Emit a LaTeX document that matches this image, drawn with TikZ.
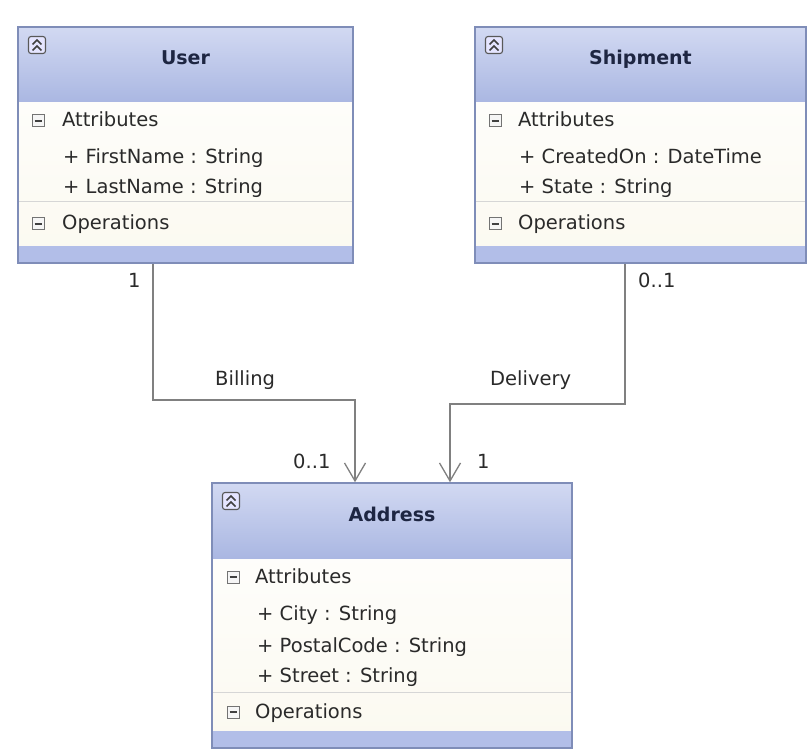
\documentclass[tikz,border=0pt]{standalone}
\usepackage{fontspec}
\setmainfont{DejaVu Sans}
\usetikzlibrary{arrows.meta,fit,calc}
\definecolor{border}{HTML}{7F8DB8}
\definecolor{hdtop}{HTML}{D2D9F2}
\definecolor{hdbot}{HTML}{AAB7E2}
\definecolor{bodytop}{HTML}{FFFFFF}
\definecolor{bodybot}{HTML}{FBF9F0}
\definecolor{bandc}{HTML}{B2BEE8}
\definecolor{sepc}{HTML}{D6D6D6}
\definecolor{titlec}{HTML}{1E2642}
\definecolor{textc}{HTML}{2A2A2A}
\definecolor{linec}{HTML}{808080}
\tikzset{
  frame/.style={draw=border,line width=1.5pt,inner sep=0pt,fill=none},
  titletext/.style={font=\fontsize{19}{22}\selectfont\bfseries,text=titlec,anchor=base,inner sep=0pt},
  rowtext/.style={font=\fontsize{19.5}{22}\selectfont,text=textc,anchor=base west,inner sep=0pt},
  conlabel/.style={font=\fontsize{19.5}{22}\selectfont,text=textc,anchor=base west,inner sep=0pt},
  assoc/.style={draw=linec,line width=1.3pt,-{Straight Barb[length=18pt,width=21pt,line width=1.3pt]}},
  iconbox/.style={draw=black!65,fill=white!90!blue,rounded corners=2.5pt,minimum size=17pt,inner sep=0pt,line width=1.1pt},
  minbox/.style={draw=black!55,fill=white!96!black,minimum size=12pt,inner sep=0pt,line width=1pt},
}
% #1 name, #2 x1, #3 y1, #4 x2, #5 y2, #6 separator y, #7 title
\newcommand\classbox[7]{%
  \shade[top color=bodytop,bottom color=bodybot] (#2,#3) rectangle (#4,#5);
  \shade[top color=hdtop,bottom color=hdbot] (#2,#3) rectangle (#4,{#3+75});
  \fill[bandc] (#2,{#5-17}) rectangle (#4,#5);
  \draw[sepc,line width=1pt] (#2,#6) -- (#4,#6);
  \node[iconbox] (#1-icon) at ({#2+19},{#3+18}) {};
  \draw[black!75,line width=1.5pt] ({#2+14.5},{#3+17.5}) -- ({#2+19},{#3+13}) -- ({#2+23.5},{#3+17.5});
  \draw[black!75,line width=1.5pt] ({#2+14.5},{#3+23.5}) -- ({#2+19},{#3+19}) -- ({#2+23.5},{#3+23.5});
  \node[titletext] (#1-title) at ({(#2+#4)/2},{#3+38}) {#7};
  \node[frame,fit={(#2,#3) (#4,#5)}] (#1) {};
}
% #1 name, #2 x, #3 y (center of box)
\newcommand\minusicon[3]{%
  \node[minbox] (#1) at (#2,#3) {};
  \draw[black!75,line width=1.4pt] ({#2-3.5},#3) -- ({#2+3.5},#3);
}
\begin{document}
\begin{tikzpicture}[x=1pt,y=-1pt]
\useasboundingbox[fill=white] (0,0) rectangle (809,751);

% ---------- User ----------
\classbox{user}{18}{27}{353}{263}{202}{User}
\minusicon{user-am}{38}{121}
\node[rowtext] (user-attr) at (62,127) {Attributes};
\node[rowtext] (user-a1) at (63,164) {+ FirstName : String};
\node[rowtext] (user-a2) at (63,194) {+ LastName : String};
\minusicon{user-om}{38}{224}
\node[rowtext] (user-ops) at (62,230) {Operations};

% ---------- Shipment ----------
\classbox{ship}{475}{27}{806}{263}{202}{Shipment}
\minusicon{ship-am}{495}{121}
\node[rowtext] (ship-attr) at (518,127) {Attributes};
\node[rowtext] (ship-a1) at (519,164) {+ CreatedOn : DateTime};
\node[rowtext] (ship-a2) at (519,194) {+ State : String};
\minusicon{ship-om}{495}{224}
\node[rowtext] (ship-ops) at (518,230) {Operations};

% ---------- Address ----------
\classbox{addr}{212}{483}{572}{748}{692}{Address}
\minusicon{addr-am}{233}{577}
\node[rowtext] (addr-attr) at (255,583) {Attributes};
\node[rowtext] (addr-a1) at (257,620) {+ City : String};
\node[rowtext] (addr-a2) at (257,652) {+ PostalCode : String};
\node[rowtext] (addr-a3) at (257,682) {+ Street : String};
\minusicon{addr-om}{233}{712}
\node[rowtext] (addr-ops) at (255,718) {Operations};

% ---------- Connectors ----------
\coordinate (b1) at (153,400);
\coordinate (b2) at (355,400);
\coordinate (d1) at (625,404);
\coordinate (d2) at (450,404);
\draw[assoc] (user.south -| b1) -- (b1) -| (addr.north -| b2);
\draw[assoc] (ship.south -| d1) -- (d1) -| (addr.north -| d2);

\node[conlabel] (l-u1) at (128,288) {1};
\node[conlabel] (l-s01) at (638,288) {0..1};
\node[conlabel] (l-bill) at (215,385) {Billing};
\node[conlabel] (l-del) at (490,385) {Delivery};
\node[conlabel] (l-a01) at (293,468) {0..1};
\node[conlabel] (l-a1) at (477,468) {1};
\end{tikzpicture}
\end{document}
